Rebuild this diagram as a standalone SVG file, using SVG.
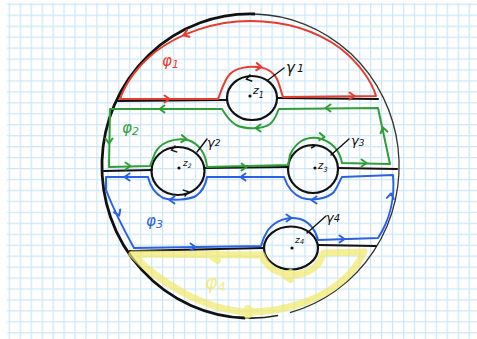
<svg xmlns="http://www.w3.org/2000/svg" xmlns:xlink="http://www.w3.org/1999/xlink" width="477" height="339" viewBox="0 0 477 339">
<style>
.cut{fill:none;stroke:#111;stroke-width:2.2;stroke-linecap:round}
.hole{fill:none;stroke:#111;stroke-width:2.2}
.loop{fill:none;stroke-width:2;stroke-linecap:round;stroke-linejoin:round}
.red{stroke:#e63c2d}
.green{stroke:#2f9e37}
.blue{stroke:#2b61e4}
.yellow{stroke:#f1e96a;stroke-width:7;opacity:.7}
.lead{fill:none;stroke:#111;stroke-width:1.4;stroke-linecap:round}
.lbl{font-family:"DejaVu Sans","Liberation Sans",sans-serif;font-style:italic}
.dot{fill:#111}
</style>
<defs>
<pattern id="grid" patternUnits="userSpaceOnUse" x="8.7" y="3.7" width="10.95" height="10.95">
<path d="M0.6,0 V10.95 M0,0.6 H10.95" fill="none" stroke="#cde7f7" stroke-width="1.3"/>
</pattern>
<path id="chev" d="M-4.5,-3.5 L0.5,0 L-4.5,3.5" fill="none"/>
</defs>
<rect width="477" height="339" fill="#fff"/>
<rect x="7" y="3" width="470" height="336" fill="url(#grid)"/>

<g id="disk">
<path d="M245,318 A148,152 0 0 1 255,14" fill="none" stroke="#111" stroke-width="2.8"/>
<path d="M255,14 A148,152 0 0 1 290,312.6" fill="none" stroke="#333" stroke-width="1.3"/>
<path d="M278,315.5 A148,152 0 0 1 245,318" fill="none" stroke="#222" stroke-width="1.6"/>
</g>

<g id="cuts">
<path class="cut" d="M118,101 L226,100 M277,98 L378,99"/>
<path class="cut" d="M104,171 L152,170 M205,168 L288,167 M338,168 L397,169"/>
<path class="cut" d="M130,251 L264,248 M318,245 L376,246"/>
</g>

<g id="hole-z1">
<ellipse class="hole" cx="252" cy="98" rx="25" ry="22" stroke-width="3"/>
<circle class="dot" cx="250" cy="96" r="1.6"/>
<text class="lbl" x="253" y="94" font-size="11" fill="#111">z<tspan font-size="8" dy="4">1</tspan></text>
<use href="#chev" transform="translate(247,79) rotate(165)" stroke="#111" stroke-width="1.5"/>
</g>
<g id="hole-z2">
<ellipse class="hole" cx="178" cy="171" rx="26.5" ry="24"/>
<circle class="dot" cx="179" cy="168" r="1.6"/>
<text class="lbl" x="183" y="166" font-size="9" fill="#111">z<tspan font-size="6" dy="2">2</tspan></text>
<use href="#chev" transform="translate(172,150) rotate(165)" stroke="#111" stroke-width="1.4"/>
<use href="#chev" transform="translate(188,192) rotate(-15)" stroke="#111" stroke-width="1.4"/>
</g>
<g id="hole-z3">
<ellipse class="hole" cx="313" cy="169" rx="25" ry="24"/>
<circle class="dot" cx="315" cy="168" r="1.6"/>
<text class="lbl" x="318" y="169" font-size="10" fill="#111">z<tspan font-size="7" dy="3">3</tspan></text>
<path d="M311,148 L315,146" stroke="#111" stroke-width="1.4" fill="none"/>
</g>
<g id="hole-z4">
<ellipse class="hole" cx="291" cy="248" rx="27" ry="21.5"/>
<circle class="dot" cx="292" cy="248" r="1.6"/>
<text class="lbl" x="295" y="243" font-size="9" fill="#111">z<tspan font-size="7" dy="1">4</tspan></text>
</g>

<g id="connectors">
<g id="phi1" class="loop red">
<path d="M120,99 L218,99 C221,92 224,80 230,74 C236,68 248,66 258,67 C268,68 276,74 279,84 C281,90 282,95 283,97 L376,96 C372,82 360,64 340,48 C315,30 285,21 250,21 C215,21 180,33 155,52 C138,66 126,82 120,99 Z"/>
<use href="#chev" transform="translate(169,99)"/>
<use href="#chev" transform="translate(354,96)"/>
<use href="#chev" transform="translate(261,67) rotate(5)"/>
<use href="#chev" transform="translate(184,35) rotate(160)"/>
</g>
<g id="phi2" class="loop green">
<path d="M110,109 L222,109 C226,115 228,120 236,125 C244,129 262,130 270,124 C276,119 277,112 279,109 L378,108 L390,164 L342,163 C340,152 334,142 318,138 C305,136 295,143 290,155 L288,165 L207,167 C206,155 200,144 188,140 C174,137 160,143 155,153 L150,166 L109,167 Z"/>
<use href="#chev" transform="translate(160,109) rotate(180)"/>
<use href="#chev" transform="translate(326,108) rotate(180)"/>
<use href="#chev" transform="translate(256,128) rotate(180)"/>
<use href="#chev" transform="translate(109,143) rotate(90)"/>
<use href="#chev" transform="translate(383,128) rotate(-103)"/>
<use href="#chev" transform="translate(130,166)"/>
<use href="#chev" transform="translate(186,139) rotate(5)"/>
<use href="#chev" transform="translate(246,167)"/>
<use href="#chev" transform="translate(324,137) rotate(5)"/>
<use href="#chev" transform="translate(366,163)"/>
</g>
<g id="phi3" class="loop blue">
<path d="M106,177 L148,177 C150,186 154,193 163,198 C172,201 188,200 196,196 C203,191 206,183 207,177 L284,177 C287,186 292,194 302,198 C312,201 327,199 334,192 C338,186 340,180 342,177 L393,175 C395,197 390,220 378,238 L318,240 C316,231 310,222 300,219 C288,216 276,220 268,230 C264,236 262,242 261,246 L134,248 C124,230 113,208 106,190 Z"/>
<use href="#chev" transform="translate(125,177) rotate(180)"/>
<use href="#chev" transform="translate(241,177) rotate(180)"/>
<use href="#chev" transform="translate(170,200) rotate(180)"/>
<use href="#chev" transform="translate(312,200) rotate(180)"/>
<use href="#chev" transform="translate(119,215) rotate(65)"/>
<use href="#chev" transform="translate(391,194) rotate(-81)"/>
<use href="#chev" transform="translate(195,247)"/>
<use href="#chev" transform="translate(291,218)"/>
<use href="#chev" transform="translate(344,239)"/>
</g>
<g id="phi4" class="loop yellow">
<path d="M132,254 L262,255 C265,264 273,271 285,274 C298,277 311,272 318,264 C321,259 322,256 324,253 L364,252 C355,272 336,290 308,301 C288,309 268,312 248,312 C225,311 202,303 182,292 C162,281 145,268 132,254 Z"/>
<use href="#chev" transform="translate(213,257) rotate(180)"/>
<use href="#chev" transform="translate(286,276) rotate(180)"/>
<use href="#chev" transform="translate(252,312)"/>
</g>
</g>

<g id="labels">
<text class="lbl" x="162" y="66" font-size="15" fill="#e63c2d">φ<tspan font-size="11" dy="2">1</tspan></text>
<text class="lbl" x="122" y="133" font-size="15" fill="#2f9e37">φ<tspan font-size="11" dy="2">2</tspan></text>
<text class="lbl" x="146" y="226" font-size="15" fill="#2b61e4">φ<tspan font-size="11" dy="2">3</tspan></text>
<text class="lbl" x="205" y="289" font-size="19" fill="#f1e96a" opacity=".8">φ<tspan font-size="13" dy="2">4</tspan></text>
<path class="lead" d="M284,68 L268,80"/>
<text class="lbl" x="286" y="73" font-size="15" fill="#111">γ<tspan font-size="11" dx="2" dy="-1">1</tspan></text>
<path class="lead" d="M207,139 L197,152"/>
<text class="lbl" x="207" y="147" font-size="13" fill="#111">γ<tspan font-size="9" dy="-1">2</tspan></text>
<path class="lead" d="M349,139 L331,155"/>
<text class="lbl" x="351" y="145" font-size="13" fill="#111">γ<tspan font-size="9" dy="1">3</tspan></text>
<path class="lead" d="M326,216 L307,233"/>
<text class="lbl" x="326" y="222" font-size="13" fill="#111">γ<tspan font-size="10">4</tspan></text>
</g>
</svg>
